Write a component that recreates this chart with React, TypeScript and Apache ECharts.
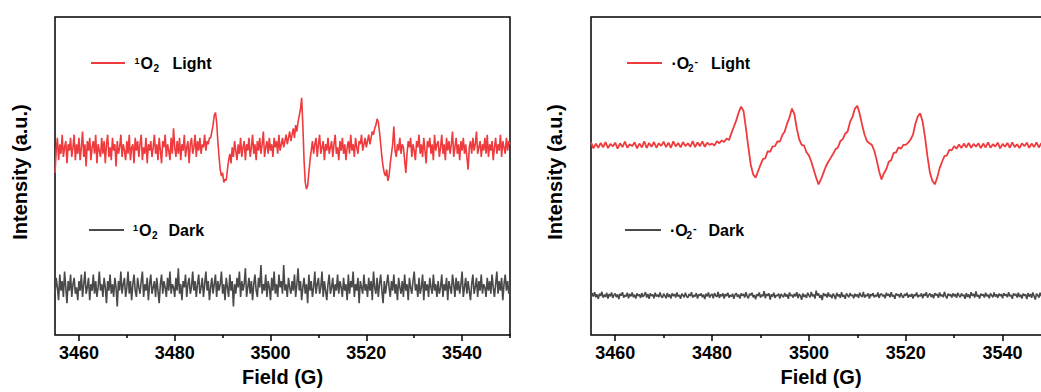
import React, { useEffect, useRef } from "react";
import * as echarts from "echarts";

// Field axis (G)
const fieldStart = 3455;
const fineStep = 0.25; // noisy traces
const coarseStep = 0.5; // smooth superoxide light trace
const majorTicks = [3460, 3480, 3500, 3520, 3540];
const minorTicks = [3470, 3490, 3510, 3530, 3550];

// Panel (a): 1O2 spectra (arbitrary intensity, frame 0-100), 0.25 G steps
const singletLight = [
  51, 58, 62, 55, 60, 57, 63, 56, 59, 61, 54, 60, 58, 62, 56, 59, 63, 55, 60, 57,
  62, 55, 59, 64, 56, 60, 53, 61, 58, 62, 55, 59, 61, 57, 63, 54, 60, 58, 56, 62,
  57, 61, 54, 60, 63, 56, 59, 55, 62, 58, 60, 53, 61, 57, 59, 63, 56, 60, 58, 55,
  61, 57, 63, 55, 59, 60, 54, 62, 58, 61, 56, 60, 63, 55, 59, 57, 62, 54, 60, 58,
  61, 56, 59, 63, 57, 60, 55, 62, 58, 54, 61, 59, 63, 56, 60, 58, 55, 62, 57, 65,
  59, 56, 61, 57, 62, 55, 60, 58, 63, 56, 59, 61, 54, 60, 62, 57, 59, 63, 56, 61,
  58, 62, 57, 60, 59, 63, 58, 61, 60, 62, 62, 64, 66, 69, 70, 67, 61, 56, 52, 50,
  51, 48, 49, 48.6, 52, 55, 57, 54, 59, 56, 61, 58, 55, 60, 57, 62, 56, 59, 61, 55,
  60, 58, 62, 56, 59, 63, 57, 60, 55, 61, 58, 62, 57, 60, 64, 56, 59, 61, 57, 62,
  58, 60, 56, 62, 59, 61, 57, 63, 58, 60, 62, 59, 61, 63, 60, 62, 64, 61, 63, 65,
  62, 66, 64, 67, 69, 71, 74.6, 66, 55, 48, 45.9, 47, 51, 55, 58, 61, 57, 60, 62, 56,
  60, 63, 57, 59, 61, 55, 60, 58, 62, 57, 59, 61, 56, 60, 63, 57, 59, 55, 61, 58,
  62, 57, 60, 55, 59, 61, 57, 63, 58, 60, 56, 62, 59, 57, 61, 60, 63, 58, 60, 62,
  59, 61, 63, 60, 62, 64, 63, 65, 66, 68, 67, 64, 60, 56, 53, 51, 50, 52, 48.5, 50,
  54, 57, 60, 65.6, 58, 56, 60, 58, 62, 57, 60, 59, 55, 51, 57, 61, 59, 62, 56, 60,
  58, 55, 61, 59, 63, 57, 60, 56, 62, 58, 54, 61, 59, 62, 57, 60, 55, 63, 58, 60,
  61, 56, 59, 63, 57, 60, 55, 62, 58, 61, 57, 60, 64, 56, 59, 62, 57, 60, 55, 61,
  58, 62, 57, 60, 56, 52, 59, 61, 57, 62, 58, 60, 64, 57, 59, 61, 56, 60, 58, 62,
  57, 63, 56, 60, 58, 61, 55, 59, 62, 57, 60, 58, 63, 56, 61, 59, 57, 62, 58, 61,
  60,
];
const singletDark = [
  13, 18, 15, 11, 19, 14, 17, 12, 20, 15, 10, 17, 14, 19, 12, 16, 18, 13, 15, 11,
  17, 14, 19, 12, 16, 20, 13, 15, 18, 11, 16, 14, 19, 13, 17, 12, 15, 20, 14, 16,
  12, 18, 15, 10, 17, 14, 19, 13, 16, 12, 18, 15, 9, 17, 14, 20, 13, 16, 18, 12,
  15, 20, 13, 17, 11, 16, 19, 14, 12, 18, 15, 13, 17, 20, 12, 16, 14, 18, 11, 16,
  19, 13, 15, 17, 12, 18, 14, 10, 16, 19, 13, 17, 15, 12, 18, 14, 20, 13, 16, 15,
  12, 18, 14, 21, 13, 16, 11, 17, 15, 19, 12, 16, 18, 13, 15, 20, 14, 17, 12, 16,
  19, 13, 15, 18, 12, 16, 20, 14, 17, 11, 15, 18, 13, 16, 19, 12, 17, 14, 16, 20,
  13, 16, 11, 18, 15, 12, 19, 14, 17, 9, 16, 13, 18, 15, 20, 12, 17, 14, 16, 21,
  12, 15, 18, 13, 17, 11, 16, 19, 14, 12, 18, 15, 22, 13, 16, 14, 19, 12, 17, 15,
  11, 18, 14, 20, 13, 16, 12, 19, 15, 17, 13, 22, 14, 16, 12, 18, 15, 13, 17, 14,
  19, 12, 16, 21, 14, 17, 11, 15, 18, 13, 16, 10, 19, 14, 17, 12, 15, 20, 13, 16,
  18, 13, 15, 20, 12, 17, 14, 11, 16, 19, 13, 15, 18, 12, 16, 14, 19, 13, 17, 15,
  12, 18, 14, 16, 11, 19, 13, 17, 15, 20, 12, 16, 14, 18, 10, 17, 15, 13, 19, 14,
  16, 12, 18, 14, 17, 11, 20, 15, 13, 18, 12, 16, 19, 14, 10, 17, 13, 16, 19, 15,
  12, 17, 14, 19, 13, 16, 11, 18, 15, 13, 17, 12, 19, 14, 16, 11, 18, 15, 13, 17,
  20, 14, 16, 12, 18, 13, 15, 19, 11, 17, 14, 16, 12, 18, 15, 13, 19, 14, 16, 12,
  17, 13, 15, 19, 12, 16, 14, 18, 11, 17, 15, 13, 19, 16, 12, 18, 14, 17, 13, 16,
  20, 12, 15, 18, 13, 17, 14, 11, 16, 19, 13, 15, 18, 12, 17, 14, 19, 13, 16, 15,
  12, 18, 14, 17, 13, 19, 15, 12, 16, 20, 13, 17, 14, 18, 11, 16, 19, 14, 17, 13,
  16,
];

// Panel (b): ·O2- spectra
const superoxideLight = [ // 0.5 G steps
  60.6, 58.7, 60.2, 58.9, 60.4, 59.0, 60.7, 58.8, 60.1, 59.3,
  60.5, 58.6, 60.3, 59.1, 60.8, 58.9, 60.0, 59.4, 60.6, 58.7,
  60.2, 59.0, 60.9, 58.8, 60.4, 59.2, 60.7, 58.9, 60.3, 59.5,
  60.8, 59.1, 60.5, 58.9, 60.9, 59.3, 60.4, 59.0, 60.7, 59.4,
  60.3, 59.2, 61.0, 59.1, 60.6, 59.4, 60.9, 59.2, 60.5, 59.8,
  60.2, 59.6, 61.0, 60.3, 61.2, 60.7, 61.8, 61.3, 63.5, 65.5,
  67.5, 70.0, 71.8, 70.5, 65.0, 59.0, 53.5, 50.5, 49.5, 51.5,
  53.5, 55.3, 55.6, 57.8, 57.6, 59.3, 59.4, 60.9, 60.8, 62.8,
  64.0, 66.5, 68.5, 71.2, 69.5, 65.0, 61.5, 59.8, 59.6, 57.5,
  56.5, 54.5, 52.0, 49.5, 47.4, 49.0, 51.0, 53.0, 54.5, 55.7,
  57.0, 58.4, 59.0, 61.0, 61.6, 63.3, 64.0, 67.0, 68.6, 71.2,
  72.1, 69.5, 66.0, 63.0, 61.0, 60.3, 59.8, 58.0, 55.0, 51.5,
  48.9, 50.9, 52.2, 54.5, 55.0, 57.3, 57.4, 59.0, 58.6, 59.8,
  59.8, 60.5, 61.5, 63.0, 66.5, 68.8, 69.7, 67.0, 62.0, 56.0,
  51.0, 48.5, 47.4, 49.5, 52.5, 54.5, 56.3, 56.5, 58.2, 58.1,
  59.4, 58.6, 59.9, 58.8, 60.2, 59.0, 60.4, 58.9, 60.1, 59.2,
  60.3, 58.8, 60.2, 59.0, 60.6, 58.9, 60.0, 59.3, 60.5, 58.7,
  60.1, 59.2, 60.4, 58.9, 60.6, 59.1, 60.0, 58.8, 60.3, 59.4,
  60.5, 58.9, 60.2, 59.1, 60.6, 59.0, 60.3, 58.8, 60.1, 59.2, 60.0,
];
const superoxideDark = [ // 0.25 G steps
  11.6, 13.2, 12.1, 13.5, 11.9, 12.8, 11.4, 13.0, 12.3, 13.6, 11.8, 12.7, 12.0, 13.3, 11.5, 12.9, 12.2, 13.4, 11.7, 12.6,
  13.1, 11.9, 12.8, 11.3, 13.0, 12.4, 13.5, 11.8, 12.6, 12.1, 13.3, 11.6, 12.9, 12.2, 13.4, 11.9, 12.7, 11.5, 13.1, 12.3,
  12.8, 11.7, 13.2, 12.0, 12.6, 13.5, 11.8, 12.9, 11.4, 13.1, 12.3, 12.8, 11.6, 13.3, 12.1, 12.7, 11.9, 13.4, 12.2, 11.7,
  13.0, 12.4, 11.6, 13.2, 12.0, 12.8, 11.5, 13.1, 12.3, 12.9, 11.8, 13.4, 12.1, 12.6, 11.4, 13.0, 12.5, 11.9, 13.3, 12.2,
  11.7, 12.9, 12.3, 13.5, 11.8, 12.6, 12.1, 13.2, 11.5, 12.8, 12.4, 13.1, 11.9, 12.7, 11.3, 13.0, 12.2, 13.4, 11.8, 12.6,
  12.9, 11.6, 13.2, 12.4, 12.0, 13.6, 11.7, 12.8, 12.2, 13.1, 11.5, 12.9, 12.3, 13.3, 11.8, 12.6, 12.1, 13.0, 11.4, 12.7,
  13.2, 12.0, 12.7, 11.5, 13.1, 12.4, 12.9, 11.8, 13.5, 12.2, 11.6, 13.0, 12.5, 13.3, 11.9, 12.6, 11.3, 12.9, 12.3, 13.4,
  11.8, 12.7, 12.2, 13.8, 11.6, 12.9, 12.4, 13.1, 11.2, 12.8, 12.1, 13.3, 11.7, 12.6, 12.3, 13.0, 11.5, 12.9, 12.4, 11.9,
  13.2, 12.1, 12.8, 11.4, 13.4, 12.3, 12.7, 11.8, 13.0, 12.2, 13.5, 11.6, 12.9, 12.4, 11.1, 13.1, 12.0, 12.7, 11.7, 13.3,
  12.5, 11.9, 13.6, 12.2, 12.8, 11.5, 14.0, 12.4, 13.1, 11.7, 12.6, 11.0, 13.2, 12.3, 12.9, 11.8, 13.4, 12.1, 12.7, 11.6,
  13.0, 12.4, 11.3, 13.3, 12.2, 12.8, 11.7, 13.5, 12.0, 12.6, 11.4, 13.1, 12.5, 11.9, 13.2, 12.3, 12.7, 11.6, 13.0, 12.2,
  12.8, 11.7, 13.3, 12.4, 12.0, 13.6, 11.8, 12.7, 12.2, 13.1, 11.5, 12.9, 12.3, 13.2, 11.9, 12.6, 12.1, 13.4, 11.7, 12.8,
  13.0, 12.2, 12.7, 11.6, 13.3, 12.4, 12.9, 11.9, 13.5, 12.1, 12.6, 11.4, 13.1, 12.5, 12.8, 11.8, 13.2, 12.3, 11.7, 12.9,
  12.4, 13.3, 11.8, 12.7, 12.1, 13.0, 11.5, 12.8, 12.3, 13.4, 11.9, 12.6, 12.2, 13.1, 11.6, 12.9, 12.4, 13.5, 11.8, 12.6,
  13.1, 12.0, 12.8, 11.6, 13.2, 12.5, 12.9, 11.7, 13.4, 12.2, 12.7, 11.9, 13.6, 12.3, 11.5, 13.0, 12.4, 12.8, 11.8, 13.1,
  12.2, 12.9, 11.7, 13.3, 12.5, 11.9, 13.1, 12.3, 12.7, 11.4, 13.2, 12.0, 12.8, 11.6, 13.5, 12.4, 12.9, 11.8, 13.7, 12.1,
  12.6, 11.5, 13.0, 12.4, 12.8, 11.8, 13.3, 12.2, 12.7, 11.6, 13.1, 12.5, 11.9, 13.4, 12.1, 12.8, 11.7, 13.0, 12.3, 12.9,
  11.6, 13.2, 12.4, 12.8, 11.9, 13.5, 12.2, 12.6, 11.4, 13.1, 12.5, 12.9, 11.8, 13.3, 12.0, 12.7, 11.5, 13.0, 12.4, 12.8,
  11.3, 13.2, 12.1, 12.9, 11.7, 13.4, 12.3, 11.2, 13.0, 12.6, 11.8, 13.3, 12.2, 12.8, 11.5, 13.1, 12.4, 11.6, 13.2, 12.0,
  12.6,
];

const RED = "#ef3b3d";
const DARK = "#4a4a4a";
const FONT = 'Arial, "Liberation Sans", Helvetica, sans-serif';

const toPairs = (vals: number[], step: number) =>
  vals.map((v, i) => [fieldStart + i * step, v]);

export default function App() {
  const ref = useRef<HTMLDivElement>(null);
  useEffect(() => {
    if (!ref.current) return;
    const chart = echarts.init(ref.current, null, { renderer: "svg" });

    const grids = [
      { left: 55, top: 17, width: 455, height: 323 },
      { left: 591, top: 17, width: 460, height: 323 },
    ];

    const xAxes: any[] = [];
    const yAxes: any[] = [];
    grids.forEach((_, gi) => {
      xAxes.push({
        type: "value",
        gridIndex: gi,
        min: 3455,
        max: 3550,
        position: "bottom",
        name: "Field (G)",
        nameLocation: "middle",
        nameGap: 29,
        nameTextStyle: { fontFamily: FONT, fontWeight: "bold", fontSize: 20, color: "#000" },
        axisLine: { show: false },
        splitLine: { show: false },
        axisTick: {
          show: true,
          customValues: majorTicks,
          length: 6,
          lineStyle: { color: "#000", width: 1.5 },
        },
        axisLabel: {
          show: true,
          customValues: majorTicks,
          formatter: (v: number) => String(v),
          margin: 9,
          fontFamily: FONT,
          fontWeight: "bold",
          fontSize: 18,
          color: "#000",
        },
      });
      xAxes.push({
        type: "value",
        gridIndex: gi,
        min: 3455,
        max: 3550,
        position: "bottom",
        axisLine: { show: false },
        splitLine: { show: false },
        axisLabel: { show: false },
        axisTick: {
          show: true,
          customValues: minorTicks,
          length: 3,
          lineStyle: { color: "#000", width: 1.5 },
        },
      });
      yAxes.push({
        type: "value",
        gridIndex: gi,
        min: 0,
        max: 100,
        axisLine: { show: false },
        axisTick: { show: false },
        axisLabel: { show: false },
        splitLine: { show: false },
      });
    });

    const mkSeries = (vals: number[], step: number, color: string, gi: number, w: number) => ({
      type: "line",
      xAxisIndex: gi * 2,
      yAxisIndex: gi,
      data: toPairs(vals, step),
      showSymbol: false,
      symbol: "none",
      lineStyle: { color, width: w },
      itemStyle: { color },
    });

    const txt = (text: string, x: number, y: number, size: number, va: string) => ({
      type: "text",
      x,
      y,
      style: { text, fill: "#000", font: `bold ${size}px ${FONT}`, align: "left", verticalAlign: va },
    });
    const line = (x1: number, x2: number, y: number, color: string) => ({
      type: "line",
      shape: { x1, y1: y, x2, y2: y },
      style: { stroke: color, lineWidth: 2 },
    });

    // 1O2 legend entry: superscript 1, O, subscript 2, label
    const singletEntry = (lx1: number, lx2: number, y: number, tx: number, color: string, label: string, labelX: number) => [
      line(lx1, lx2, y, color),
      txt("1", tx - 2.5, y - 7, 9, "top"),
      txt("O", tx + 3.5, y + 0.5, 16, "middle"),
      txt("2", tx + 16.5, y + 10, 10, "bottom"),
      txt(label, labelX, y + 0.5, 16, "middle"),
    ];
    // ·O2- legend entry
    const superEntry = (lx1: number, lx2: number, y: number, tx: number, color: string, label: string, labelX: number) => [
      line(lx1, lx2, y, color),
      txt("·O", tx, y + 0.5, 16, "middle"),
      txt("2", tx + 16.5, y + 10, 10, "bottom"),
      txt("-", tx + 23, y - 8, 11, "top"),
      txt(label, labelX, y + 0.5, 16, "middle"),
    ];

    const yName = (cx: number) => ({
      type: "text",
      x: cx,
      y: 172,
      rotation: Math.PI / 2,
      style: {
        text: "Intensity (a.u.)",
        align: "center",
        verticalAlign: "middle",
        fill: "#000",
        font: `bold 20px ${FONT}`,
      },
    });

    chart.setOption({
      animation: false,
      backgroundColor: "#fff",
      grid: grids.map((g) => ({
        ...g,
        show: true,
        borderColor: "#000",
        borderWidth: 1.5,
        backgroundColor: "transparent",
        containLabel: false,
      })),
      xAxis: xAxes,
      yAxis: yAxes,
      series: [
        mkSeries(singletLight, fineStep, RED, 0, 1.6),
        mkSeries(singletDark, fineStep, DARK, 0, 1.6),
        mkSeries(superoxideLight, coarseStep, RED, 1, 1.8),
        mkSeries(superoxideDark, fineStep, DARK, 1, 1.6),
      ],
      graphic: [
        yName(20),
        yName(555),
        ...singletEntry(91, 125, 63, 137, RED, "Light", 172.5),
        ...singletEntry(89, 124, 230, 135.5, DARK, "Dark", 168.5),
        ...superEntry(627, 662, 63, 671.5, RED, "Light", 711),
        ...superEntry(625, 661, 230, 670, DARK, "Dark", 708.5),
      ],
    });
    return () => chart.dispose();
  }, []);

  return (
    <div
      style={{
        position: "fixed",
        left: 0,
        top: 0,
        width: 1041,
        height: 392,
        overflow: "hidden",
        background: "#fff",
      }}
    >
      <div ref={ref} style={{ width: 1062, height: 392 }} />
    </div>
  );
}
